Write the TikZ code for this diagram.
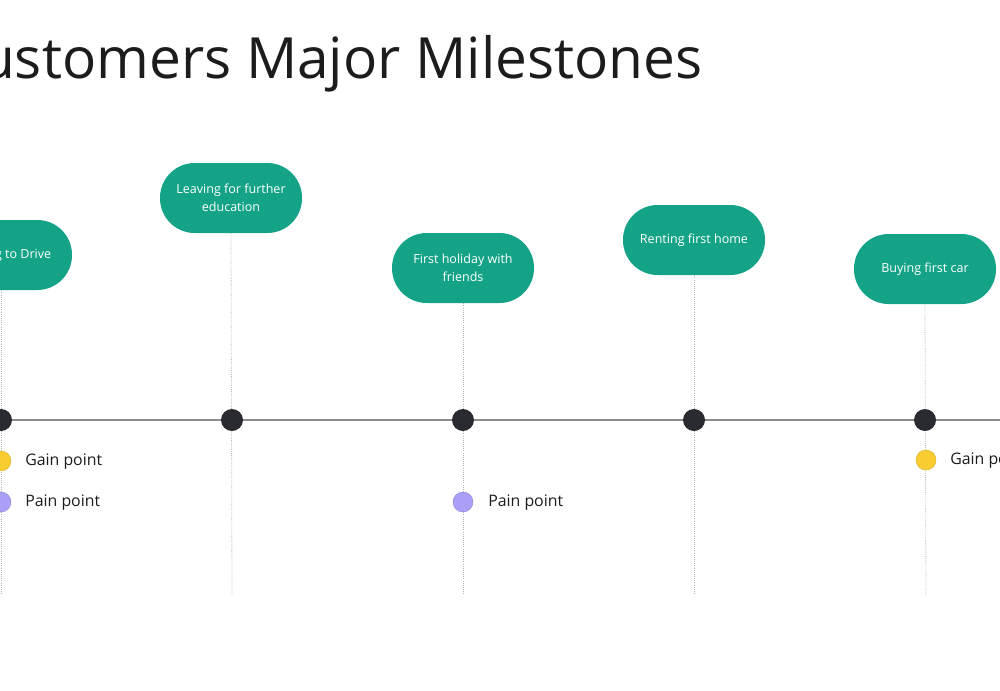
\documentclass[tikz,border=0pt]{standalone}
\usepackage{fontspec}
\setmainfont{Open Sans}
\usepackage{tikz}
\usetikzlibrary{positioning}
\definecolor{mileteal}{HTML}{14A386}
\definecolor{dotdark}{HTML}{2A2B30}
\definecolor{gainyellow}{HTML}{F9CD2F}
\definecolor{painviolet}{HTML}{A99FF7}
\definecolor{inkgray}{HTML}{1C1C1E}

\begin{document}
\begin{tikzpicture}[
  x=0.75pt, y=-0.75pt,
  milestone/.style={fill=mileteal, text=white, rounded corners=26pt, align=center,
    minimum width=106.5pt, minimum height=52.5pt, inner sep=2pt,
    font=\fontsize{9.4}{13.5}\selectfont},
  stop/.style={circle, fill=dotdark, minimum size=16.5pt, inner sep=0pt},
  gain/.style={circle, fill=gainyellow, draw=gainyellow!85!black, line width=0.3pt, minimum size=15pt, inner sep=0pt},
  pain/.style={circle, fill=painviolet, draw=painviolet!85!black, line width=0.3pt, minimum size=15pt, inner sep=0pt},
  tag/.style={anchor=west, text=inkgray, inner sep=0pt, font=\fontsize{11.9}{14}\selectfont},
  guide/.style={draw=black!30, densely dotted, line width=0.6pt}
]
\useasboundingbox (0,0) rectangle (1000,690);
\clip (0,0) rectangle (1000,690);

% title
\node[anchor=base east, text=inkgray, inner sep=0pt, font=\fontsize{42.6}{50}\selectfont] (title) at (703,78) {Customers Major Milestones};

% milestone boxes
\node[milestone] (m1) at (1,255) {Learning to Drive};
\node[milestone] (m2) at (231,198) {Leaving for further\\education};
\node[milestone] (m3) at (463,268) {First holiday with\\friends};
\node[milestone] (m4) at (694,240) {Renting first home};
\node[milestone] (m5) at (925,269) {Buying first car};

% guide ends
\coordinate (e1) at (1,595);
\coordinate (e2) at (232,595);
\coordinate (e3) at (463,595);
\coordinate (e4) at (694,595);
\coordinate (e5) at (926,595);

\draw[guide] (m1.south) -- (e1);
\draw[guide] (m2.south) -- (e2);
\draw[guide] (m3.south) -- (e3);
\draw[guide] (m4.south) -- (e4);
\draw[guide] (m5.south) -- (e5);

% timeline
\coordinate (tl) at (0,420);
\coordinate (tr) at (1000,420);
\draw[black!45, line width=0.9pt] (tl) -- (tr);

\node[stop] (s1) at (1,420) {};
\node[stop] (s2) at (232,420) {};
\node[stop] (s3) at (463,420) {};
\node[stop] (s4) at (694,420) {};
\node[stop] (s5) at (925,420) {};

% gain and pain points
\node[gain] (g1) at (1,461) {};
\node[tag] (g1t) at (25,462) {Gain point};
\node[pain] (p1) at (1,502) {};
\node[tag] (p1t) at (25,503) {Pain point};

\node[pain] (p3) at (463,502) {};
\node[tag] (p3t) at (488,503) {Pain point};

\node[gain] (g5) at (926,460) {};
\node[tag] (g5t) at (950,461) {Gain point};
\end{tikzpicture}
\end{document}
